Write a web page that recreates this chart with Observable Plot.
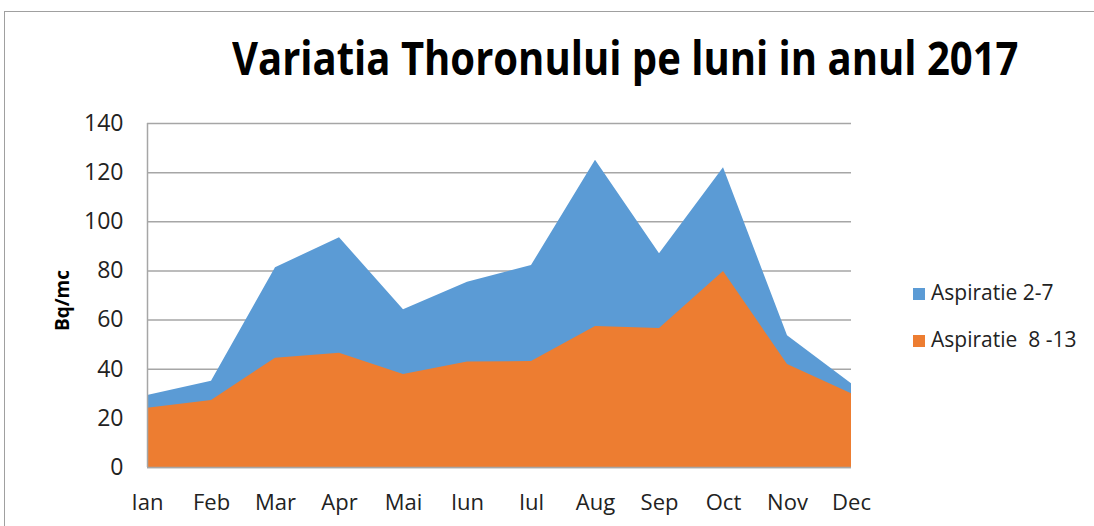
<!DOCTYPE html>
<html><head><meta charset="utf-8">
<script src="https://cdn.jsdelivr.net/npm/d3@7"></script>
<script src="https://cdn.jsdelivr.net/npm/@observablehq/plot@0.6"></script>
<style>
html,body{margin:0;padding:0;background:#fff;overflow:hidden}
#wrap{position:relative;width:1094px;height:526px;font-family:"Open Sans",sans-serif}
#frame{position:absolute;left:4px;top:11px;width:1200px;height:600px;border:1.5px solid #a0a0a0;box-sizing:border-box}
#title{position:absolute;left:232px;top:26px;font-weight:bold;font-size:46px;color:#000;white-space:nowrap;transform-origin:0 0;transform:scaleX(0.87)}
.leg{position:absolute;left:913px;font-size:21px;color:#222;white-space:nowrap}
.sw{display:inline-block;width:12px;height:12px;margin-right:6px;vertical-align:0px}
#plot{position:absolute;left:0;top:0}
</style></head>
<body><div id="wrap"><div id="frame"></div><div id="plot"></div><div id="title">Variatia Thoronului pe luni in anul 2017</div>
<div class="leg" style="top:278px"><span class="sw" style="background:#5B9BD5"></span>Aspiratie 2-7</div>
<div class="leg" style="top:325px"><span class="sw" style="background:#ED7D31"></span>Aspiratie&nbsp; 8 -13</div>
</div>
<script>
const months = ["Ian","Feb","Mar","Apr","Mai","Iun","Iul","Aug","Sep","Oct","Nov","Dec"];
const aspiratie27 = [29.3,35.1,81.3,93.5,64.2,75.4,82.2,125,87,122,53.6,34.1];
const aspiratie813 = [24.1,27.3,44.5,46.5,37.8,42.9,43.1,57.4,56.6,79.8,41.9,30];
const yTicks = [0,20,40,60,80,100,120,140];

const blue = months.map((m,i)=>({m, v: aspiratie27[i]}));
const orange = months.map((m,i)=>({m, v: aspiratie813[i]}));

const chart = Plot.plot({
  width: 1094, height: 526,
  marginTop: 123, marginBottom: 59, marginLeft: 147, marginRight: 243,
  style: {fontFamily: '"Open Sans",sans-serif', fontSize: "22px", color: "#222", background: "transparent"},
  x: {type: "point", domain: months, padding: 0, label: null},
  y: {domain: [0,140], label: null},
  marks: [
    Plot.gridY(yTicks, {stroke: "#a6a6a6", strokeOpacity: 1, strokeWidth: 1.5}),
    Plot.areaY(blue, {x: "m", y: "v", fill: "#5B9BD5"}),
    Plot.areaY(orange, {x: "m", y: "v", fill: "#ED7D31"}),
    Plot.ruleX([months[0]], {stroke: "#a6a6a6", strokeWidth: 1.5}),
    Plot.ruleY([0], {stroke: "#a6a6a6", strokeWidth: 1.5}),
    Plot.axisX({tickSize: 0, tickPadding: 27, fontSize: 22}),
    Plot.axisY({ticks: yTicks, tickSize: 0, tickPadding: 24, fontSize: 23}),
    Plot.text(["Bq/mc"], {frameAnchor: "left", textAnchor: "middle", dx: -85, dy: 5, rotate: -90, fontWeight: "bold", fontSize: 19, fill: "#000"})
  ]
});
document.getElementById("plot").appendChild(chart);
</script></body></html>
